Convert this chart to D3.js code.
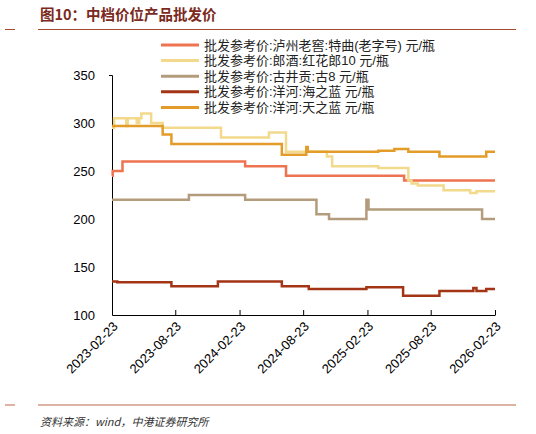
<!DOCTYPE html>
<html><head><meta charset="utf-8">
<script src="https://cdn.jsdelivr.net/npm/d3@7"></script>
<style>body{margin:0;background:#fff}svg{font-family:"Liberation Sans",Arial,"Noto Sans CJK SC",sans-serif}</style>
</head><body><svg id="c" width="536" height="434"></svg>
<script>
var names = ["批发参考价:泸州老窖:特曲(老字号) 元/瓶", "批发参考价:郎酒:红花郎10 元/瓶", "批发参考价:古井贡:古8 元/瓶", "批发参考价:洋河:海之蓝 元/瓶", "批发参考价:洋河:天之蓝 元/瓶"];
var colors = ["#EE7350", "#F2D98C", "#B39C7C", "#A33516", "#E39C2A"];
var xTicks = ["2023-02-23","2023-08-23","2024-02-23","2024-08-23","2025-02-23","2025-08-23","2026-02-23"];
var yTicks = [100,150,200,250,300,350];

var luzhou = [["2023-02-23",245],["2023-02-25",250],["2023-03-25",260],["2024-03-10",255],["2024-07-05",245],["2025-06-08",240],["2026-02-23",240]];
var langjiu = [["2023-02-23",295],["2023-03-01",305],["2023-04-05",297],["2023-04-09",305],["2023-05-05",300],["2023-05-12",305],["2023-05-18",310],["2023-06-15",300],["2023-07-18",295],["2024-01-01",285],["2024-05-17",290],["2024-07-05",270],["2024-10-30",265],["2024-11-14",255],["2025-03-26",253],["2025-06-20",240],["2025-06-29",237],["2025-07-17",235],["2025-09-29",230],["2025-12-14",227],["2026-01-01",229],["2026-02-23",229]];
var gujing = [["2023-02-23",220],["2023-10-01",225],["2024-03-10",220],["2024-09-30",205],["2024-11-05",200],["2025-02-20",220],["2025-02-26",210],["2026-01-17",200],["2026-02-23",200]];
var haizhilan = [["2023-02-23",135],["2023-03-10",134],["2023-08-12",130],["2023-12-23",135],["2024-06-23",130],["2024-09-08",127],["2025-02-20",129],["2025-06-05",120],["2025-09-17",125],["2025-12-23",128],["2026-01-01",125],["2026-01-29",127],["2026-02-23",127]];
var tianzhilan = [["2023-02-23",297],["2023-07-18",288],["2023-08-12",278],["2024-06-23",267],["2024-09-01",275],["2024-09-05",270],["2025-03-26",271],["2025-05-11",273],["2025-06-20",270],["2025-09-17",265],["2026-01-29",270],["2026-02-23",270]];
var series = [luzhou, langjiu, gujing, haizhilan, tianzhilan];

var svg = d3.select("#c");
var p = d3.timeParse("%Y-%m-%d");
var x = d3.scaleTime().domain([p(xTicks[0]), p(xTicks[6])]).range([112, 495]);
var y = d3.scaleLinear().domain([100, 350]).range([315, 75]);

// title and rules
svg.append("text").attr("x", 40).attr("y", 20).attr("fill", "#7B2A1E").attr("font-size", 14.5).attr("font-weight", "bold")
  .attr("font-family", "Noto Sans CJK SC").text("图10：中档价位产品批发价");
svg.append("line").attr("x1", 5).attr("x2", 15).attr("y1", 29.5).attr("y2", 29.5).attr("stroke", "#A64A30");
svg.append("line").attr("x1", 38).attr("x2", 516).attr("y1", 29.5).attr("y2", 29.5).attr("stroke", "#A64A30");
svg.append("line").attr("x1", 5).attr("x2", 15).attr("y1", 405).attr("y2", 405).attr("stroke", "#D59A86").attr("stroke-width", 1.5);
svg.append("line").attr("x1", 38).attr("x2", 516).attr("y1", 405).attr("y2", 405).attr("stroke", "#D59A86").attr("stroke-width", 1.5);
svg.append("text").attr("x", 40).attr("y", 426).attr("font-size", 11).attr("font-style", "italic").attr("fill", "#333")
  .attr("font-family", "Noto Sans CJK SC").text("资料来源：wind，中港证券研究所");

// axes
var ya = svg.append("g").attr("transform", "translate(112,0)")
  .call(d3.axisLeft(y).tickValues(yTicks).tickSize(3).tickPadding(14));
var xa = svg.append("g").attr("transform", "translate(0,315)")
  .call(d3.axisBottom(x).tickValues(xTicks.map(p)).tickFormat(d3.timeFormat("%Y-%m-%d")).tickSize(5).tickSizeOuter(0));
ya.select(".domain").attr("d", "M-3,75.5H0.5V315.5");
ya.selectAll(".tick line").remove();
svg.selectAll(".domain").attr("stroke", "#000");
ya.selectAll("text").attr("font-size", 13).attr("fill", "#000");
xa.selectAll(".tick line").attr("y2", -5);
xa.selectAll("text").attr("font-size", 13).attr("fill", "#000").attr("text-anchor", "end")
  .attr("y", 0).attr("dy", "0.35em").attr("transform", "translate(3,9) rotate(-45)");

// lines
var line = d3.line().curve(d3.curveStepAfter).x(function(d){ return x(p(d[0])); }).y(function(d){ return y(d[1]); });
series.forEach(function(s, i) {
  svg.append("path").attr("d", line(s)).attr("fill", "none").attr("stroke", colors[i]).attr("stroke-width", 2.5);
});

// legend
names.forEach(function(n, i) {
  var ly = 45 + i * 15.6;
  svg.append("line").attr("x1", 161).attr("x2", 199).attr("y1", ly).attr("y2", ly).attr("stroke", colors[i]).attr("stroke-width", 3);
  svg.append("text").attr("x", 204).attr("y", ly + 4.5).attr("font-size", 13).attr("fill", "#222").text(n);
});
</script></body></html>
